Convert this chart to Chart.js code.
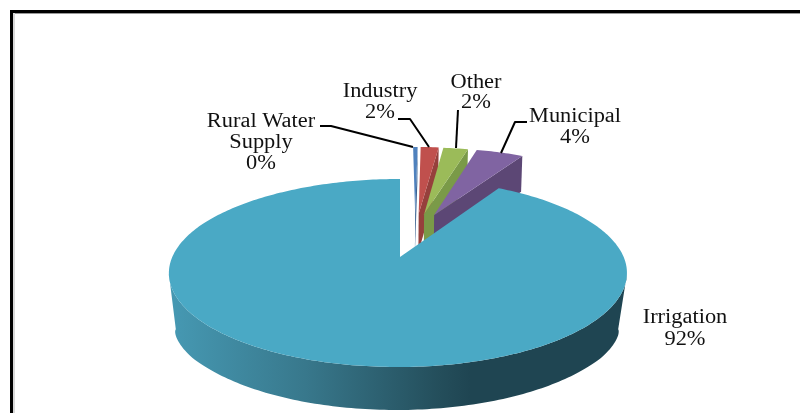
<!DOCTYPE html>
<html>
<head>
<meta charset="utf-8">
<style>
  html, body { margin: 0; padding: 0; background: #fff; }
  #wrap { width: 800px; height: 413px; }
  canvas { display: block; }
</style>
<script src="https://cdn.jsdelivr.net/npm/chart.js@4/dist/chart.umd.min.js"></script>
</head>
<body>
<div id="wrap"><canvas id="chart" width="800" height="413"></canvas></div>
<script>
// Water use by sector, percent of total
const categories = ['Rural Water Supply', 'Industry', 'Other', 'Municipal', 'Irrigation'];
const shares = [0.4, 1.6, 2.2, 4.2, 91.6];

const topColors = ['#4f81bd', '#c0504d', '#9bbb59', '#8064a2', '#4aa9c5'];
const sideColors = ['#3b6390', '#96403c', '#7a9a48', '#5c4775', null];

// Outward displacement of each slice on the pie's own plane (radius = 1)
const offsetX = [0.073, 0.09, 0.116, 0.164, 0];
const offsetZ = [-0.516, -0.516, -0.51, -0.5, 0];
const rimShiftX = [0, 0, 0, 0, -0.009];
const wallLean = [0.985, 0.985, 0.985, 0.99, 0.965];

// Tilted view of the disc
const view = { x0: 400, y0: 257, a: 225.7, b: 91.3, k: 0.17 };

function project(X, Z) {
  const w = 1 - view.k * Z;
  return { x: view.x0 + view.a * X / w, y: view.y0 + view.b * Z / w };
}
function dropped(X, Z, lean) {
  const p = project(X, Z);
  return { x: view.x0 + lean * (p.x - view.x0), y: p.y + 40 + 3 * Z };
}
// Lower edge of the big slice's wall: taller and drawn inward at the flanks
function droppedFront(X, Z) {
  const p = project(X, Z);
  const t = Math.max(0, (Z - view.k) / (1 - view.k));
  const lean = 0.965 + 0.035 * Math.min(1, t / 0.5);
  const depth = 40 + 3 * t + 16 * Math.pow(1 - t, 4);
  return { x: view.x0 + lean * (p.x - view.x0) - 1, y: p.y + depth };
}
function rimPoint(angle, i) {
  const sin = Math.sin(angle);
  // The rim shift fades out toward the back so the cut edge stays upright
  const shift = rimShiftX[i] * Math.min(1, (1 + sin) / 0.6);
  return [Math.cos(angle) + offsetX[i] + shift, sin + offsetZ[i]];
}
function tracePoints(ctx, pts) {
  ctx.beginPath();
  pts.forEach((p, n) => n ? ctx.lineTo(p.x, p.y) : ctx.moveTo(p.x, p.y));
  ctx.closePath();
}

function wallGradient(ctx) {
  const g = ctx.createLinearGradient(170, 0, 470, 0);
  g.addColorStop(0, '#4699b3');
  g.addColorStop(0.45, '#38788c');
  g.addColorStop(0.9, '#244e5b');
  g.addColorStop(1, '#1f4552');
  return g;
}

const tiltedPie = {
  id: 'tiltedPie',
  beforeDatasetsDraw(chart) {
    const ctx = chart.ctx;
    chart.getDatasetMeta(0).data.forEach((arc, i) => {
      const { startAngle, endAngle } = arc;
      const steps = Math.max(2, Math.ceil((endAngle - startAngle) / 0.0175));
      const rim = [];
      for (let s = 0; s <= steps; s++) {
        rim.push(rimPoint(startAngle + (endAngle - startAngle) * s / steps, i));
      }
      const apex = [offsetX[i], offsetZ[i]];
      const lean = wallLean[i];

      ctx.save();
      if (sideColors[i]) {
        // Cut face on the clockwise side of a pulled-out slice
        const end = rim[rim.length - 1];
        tracePoints(ctx, [
          project(apex[0], apex[1]), project(end[0], end[1]),
          dropped(end[0], end[1], lean), dropped(apex[0], apex[1], lean)
        ]);
        ctx.fillStyle = sideColors[i];
        ctx.fill();
      } else {
        // Curved outer wall of the large slice: only the part of the rim facing the viewer
        const front = rim.filter(p => p[1] > view.k);
        const wall = front.map(p => project(p[0], p[1]))
          .concat(front.slice().reverse().map(p => droppedFront(p[0], p[1])));
        tracePoints(ctx, wall);
        ctx.fillStyle = wallGradient(ctx);
        ctx.fill();
      }
      // Top face
      tracePoints(ctx, [project(apex[0], apex[1])].concat(rim.map(p => project(p[0], p[1]))));
      ctx.fillStyle = topColors[i];
      ctx.fill();
      ctx.restore();
    });
    return false;
  },
  afterDraw(chart) {
    const ctx = chart.ctx;
    ctx.save();
    ctx.strokeStyle = '#000';
    ctx.lineWidth = 2;
    ctx.lineJoin = 'round';
    leaders.forEach(line => {
      ctx.beginPath();
      line.forEach((p, n) => n ? ctx.lineTo(p[0], p[1]) : ctx.moveTo(p[0], p[1]));
      ctx.stroke();
    });
    ctx.fillStyle = '#111';
    ctx.font = '20px "Liberation Serif"';
    ctx.textAlign = 'center';
    ctx.textBaseline = 'alphabetic';
    labelBlocks.forEach((block, i) => {
      const pct = Math.round(shares[i]) + '%';
      block.lines.concat(pct).forEach((text, n) => {
        ctx.save();
        ctx.translate(block.x, block.y + n * block.step);
        ctx.scale(1.12, 1);
        ctx.fillText(text, 0, 0);
        ctx.restore();
      });
    });
    ctx.restore();
  }
};

// Sheet border along the top and left edges
const sheetBorder = {
  id: 'sheetBorder',
  beforeDraw(chart) {
    const ctx = chart.ctx;
    ctx.save();
    ctx.fillStyle = '#fff';
    ctx.fillRect(0, 0, 800, 413);
    ctx.fillStyle = '#999';
    ctx.fillRect(13, 13, 787, 1);
    ctx.fillStyle = '#d8d8d8';
    ctx.fillRect(13, 13, 2, 400);
    ctx.fillStyle = '#000';
    ctx.fillRect(10, 10, 790, 3);
    ctx.fillRect(10, 10, 3, 403);
    ctx.restore();
  }
};

const labelBlocks = [
  { lines: ['Rural Water', 'Supply'], x: 261, y: 127, step: 21 },
  { lines: ['Industry'], x: 380, y: 97, step: 21 },
  { lines: ['Other'], x: 476, y: 88, step: 20 },
  { lines: ['Municipal'], x: 575, y: 122, step: 21 },
  { lines: ['Irrigation'], x: 685, y: 323, step: 22 }
];

const leaders = [
  [[320, 126], [331, 126], [413, 147]],
  [[398, 119], [410, 119], [429, 147]],
  [[458, 110], [456, 148]],
  [[527, 122], [515, 122], [501, 153]]
];

new Chart(document.getElementById('chart'), {
  type: 'pie',
  data: {
    labels: categories,
    datasets: [{ data: shares, backgroundColor: topColors, borderWidth: 0 }]
  },
  options: {
    responsive: false,
    animation: false,
    events: [],
    plugins: { legend: { display: false }, tooltip: { enabled: false } }
  },
  plugins: [sheetBorder, tiltedPie]
});
</script>
</body>
</html>
